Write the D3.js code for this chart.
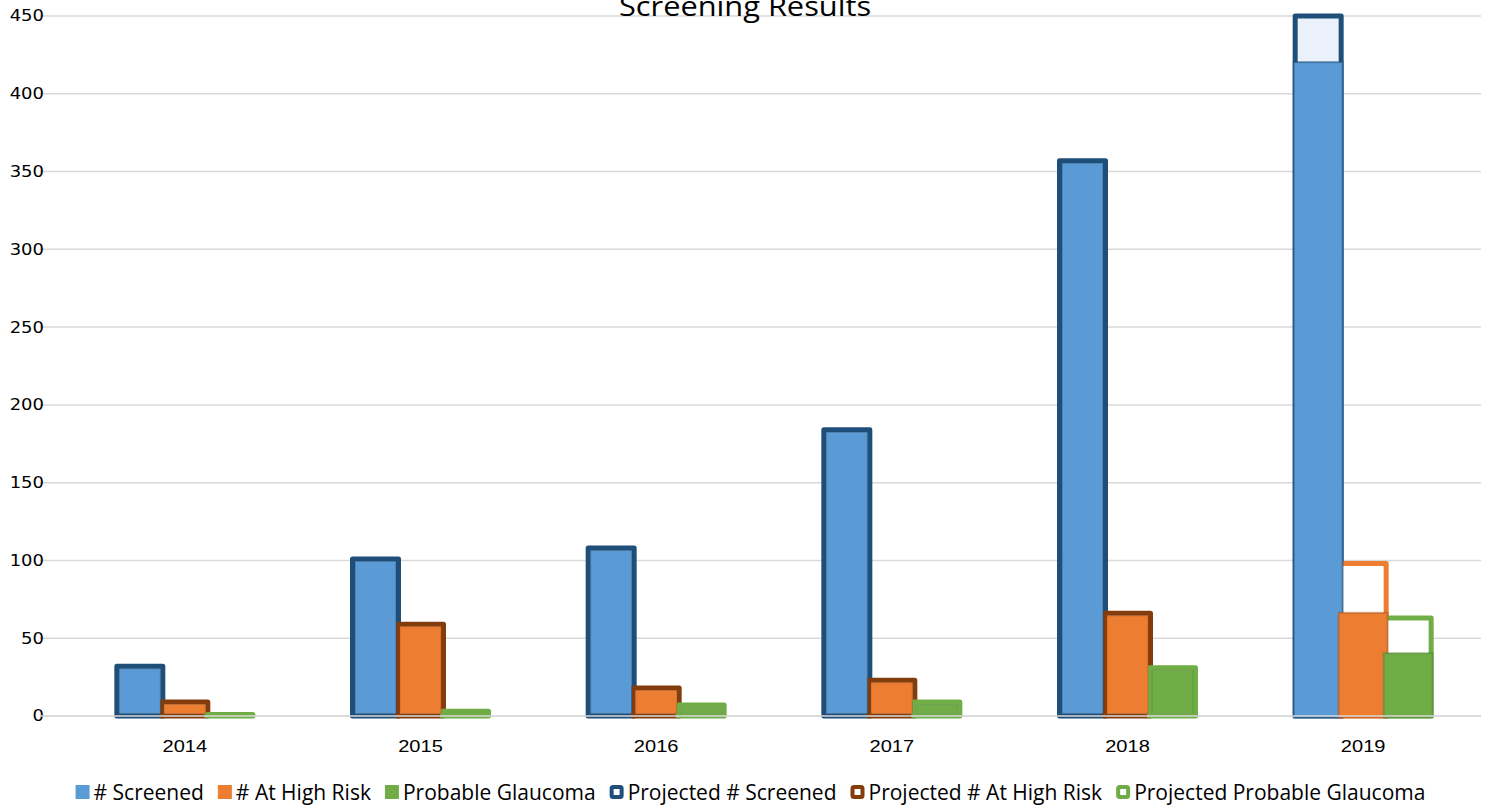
<!DOCTYPE html>
<html><head><meta charset="utf-8">
<script src="https://cdn.jsdelivr.net/npm/d3@7"></script>
<style>html,body{margin:0;padding:0;background:#fff;overflow:hidden}</style>
</head><body>
<svg id="chart" width="1489" height="808"></svg>
<script>
// ---- data ----
const years = ["2014", "2015", "2016", "2017", "2018", "2019"];
const screened = [32, 101, 108, 184, 357, 421];
const highRisk = [9, 59, 18, 23, 66, 67];
const glaucoma = [1, 3, 7, 9, 31, 41];
const projScreened = [32, 101, 108, 184, 357, 450];
const projHighRisk = [9, 59, 18, 23, 66, 98];
const projGlaucoma = [1, 3, 7, 9, 31, 63];
const yTicks = [0, 50, 100, 150, 200, 250, 300, 350, 400, 450];
const seriesNames = ["# Screened", "# At High Risk", "Probable Glaucoma",
  "Projected # Screened", "Projected # At High Risk", "Projected Probable Glaucoma"];
const chartTitle = "Screening Results";

// ---- styles ----
const actualColors = ["#5B9BD5", "#ED7D31", "#70AD47"];
const actualEdge = ["rgba(31,78,121,0.55)", "rgba(160,80,25,0.45)", "rgba(80,130,50,0.5)"];
const projStroke = ["#1F4E79", "#843C0C", "#70AD47"];
// per-point overrides for the projected series (last year formatted differently)
const projPointStroke = [[null,null,null,null,null,null],[null,null,null,null,null,"#ED7D31"],[null,null,null,null,null,null]];
const projPointFill = [["#fff","#fff","#fff","#fff","#fff","#EAF1FA"],["#fff","#fff","#fff","#fff","#fff","#fff"],["#fff","#fff","#fff","#fff","#fff","#fff"]];

const svg = d3.select("#chart");
const W = 1489, H = 808;
const plot = {left: 67, right: 1481, top: 16, bottom: 716, gridLeft: 40};
const SW = 5;      // projected outline width
const BW = 46;     // bar width (rect)
const PITCH = 45;

const x = d3.scaleBand().domain(years).range([plot.left, plot.right]).padding(0);
const xs = d3.scaleBand().domain([0,1,2]).range([-1.5*PITCH, 1.5*PITCH]).padding(0);
const y = d3.scaleLinear().domain([0, 450]).range([plot.bottom, plot.top]);

// gridlines
svg.append("g").selectAll("line").data(yTicks).join("line")
  .attr("x1", plot.gridLeft).attr("x2", plot.right)
  .attr("y1", d => y(d)).attr("y2", d => y(d))
  .attr("stroke", "#D9D9D9").attr("stroke-width", 1.5);

// y labels
const sxY = 1.2;
svg.append("g").selectAll("text").data(yTicks).join("text")
  .attr("transform", d => `translate(44,${y(d)}) scale(${sxY},1)`)
  .attr("text-anchor", "end").attr("dy", "0.36em")
  .attr("font-family", "DejaVu Sans").attr("font-size", 15).attr("fill", "#000")
  .text(d => d);

const actual = [screened, highRisk, glaucoma];
const proj = [projScreened, projHighRisk, projGlaucoma];

const bars = svg.append("g");
years.forEach((yr, j) => {
  for (let s = 0; s < 3; s++) {
    const cx = x(yr) + x.bandwidth()/2 + xs(s) + xs.bandwidth()/2;
    const pv = proj[s][j];
    const stroke = projPointStroke[s][j] || projStroke[s];
    bars.append("rect")
      .attr("x", cx - BW/2).attr("width", BW)
      .attr("y", y(pv)).attr("height", y(0) - y(pv))
      .attr("fill", projPointFill[s][j]).attr("stroke", stroke)
      .attr("stroke-width", SW).attr("stroke-linejoin", "round");
  }
});
years.forEach((yr, j) => {
  for (let s = 0; s < 3; s++) {
    const cx = x(yr) + x.bandwidth()/2 + xs(s) + xs.bandwidth()/2;
    const pv = proj[s][j], av = actual[s][j];
    if (av < pv) {
      bars.append("rect")
        .attr("x", cx - BW/2 - SW/2 + 1).attr("width", BW + SW - 2)
        .attr("y", y(av) + 1).attr("height", y(0) - y(av) + SW/2 - 2)
        .attr("fill", actualColors[s]).attr("stroke", actualEdge[s]).attr("stroke-width", 2);
    } else {
      const top = y(av) + SW/2, bot = y(0) - SW/2;
      bars.append("rect")
        .attr("x", cx - BW/2 + SW/2).attr("width", BW - SW)
        .attr("y", top).attr("height", Math.max(0, bot - top))
        .attr("fill", actualColors[s]).attr("stroke", actualEdge[s]).attr("stroke-width", 1);
    }
  }
});

// baseline over bars
svg.append("line").attr("x1", plot.gridLeft).attr("x2", plot.right)
  .attr("y1", y(0)).attr("y2", y(0)).attr("stroke", "#D9D9D9").attr("stroke-width", 1.5);

// x labels
const sxX = 1.18;
svg.append("g").selectAll("text").data(years).join("text")
  .attr("transform", d => `translate(${x(d) + x.bandwidth()/2},752) scale(${sxX},1)`)
  .attr("text-anchor", "middle")
  .attr("font-family", "Liberation Sans").attr("font-size", 17).attr("fill", "#000")
  .text(d => d);

// title
svg.append("text").attr("transform", `translate(745,16) scale(1.14,1)`)
  .attr("text-anchor", "middle").attr("font-family", "Open Sans").attr("font-size", 27)
  .attr("fill", "#000").text(chartTitle);

// legend
const lg = svg.append("g");
let cur = 0;
seriesNames.forEach((name, i) => {
  const g = lg.append("g");
  if (i < 3) {
    g.append("rect").attr("x", cur).attr("y", -7).attr("width", 14).attr("height", 14).attr("fill", actualColors[i]);
  } else {
    g.append("rect").attr("x", cur + 2).attr("y", -5).attr("width", 10).attr("height", 10)
      .attr("fill", "#fff").attr("stroke", projStroke[i-3]).attr("stroke-width", 4).attr("rx", 1.5);
  }
  const t = g.append("text").attr("x", cur + 18)
    .attr("dy", "0.36em").attr("font-family", "Open Sans").attr("font-size", 21).attr("fill", "#000")
    .text(name);
  const tw = t.node().getComputedTextLength();
  cur += 18 + tw + 14;
});
const total = cur - 14;
lg.attr("transform", `translate(${(W - total)/2 + 6},792)`);
</script>
</body></html>
